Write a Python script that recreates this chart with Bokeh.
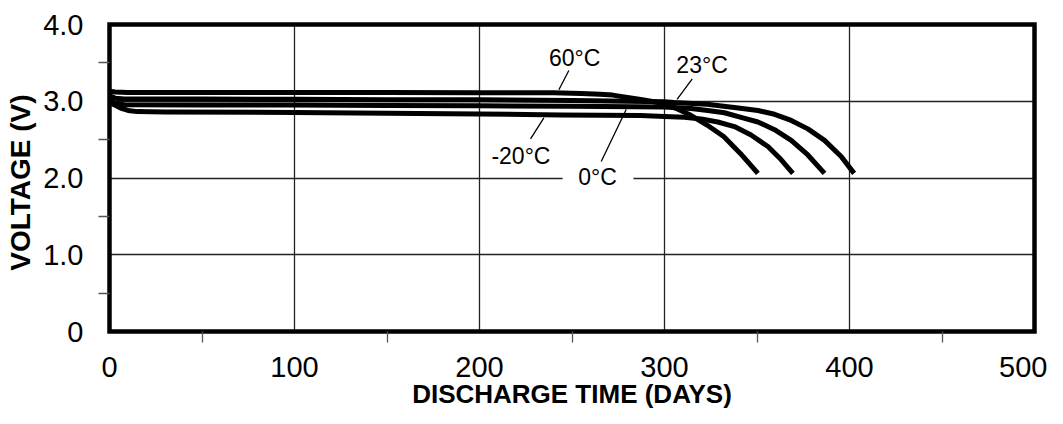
import math
from bokeh.plotting import figure
from bokeh.models import FixedTicker, Label, Range1d, Grid
from bokeh.embed import file_html
from bokeh.resources import INLINE

# ---- data ----
days_60 = [0, 3, 10, 50, 100, 150, 200, 240, 255, 265, 272, 280, 288, 295, 300, 307, 314, 323, 332, 341, 350.5]
volt_60 = [3.13, 3.12, 3.115, 3.115, 3.115, 3.115, 3.11, 3.11, 3.10, 3.09, 3.08, 3.05, 3.02, 2.99, 2.96, 2.90, 2.82, 2.69, 2.54, 2.32, 2.06]

days_23 = [0, 3, 8, 50, 100, 150, 200, 250, 280, 300, 305, 323, 341, 350.5, 359.5, 368.5, 377.5, 386.5, 395.5, 402.5]
volt_23 = [3.07, 3.04, 3.03, 3.03, 3.025, 3.02, 3.02, 3.01, 3.0, 2.995, 2.985, 2.96, 2.91, 2.88, 2.83, 2.75, 2.64, 2.49, 2.28, 2.06]

days_0 = [0, 3, 8, 50, 100, 150, 200, 250, 300, 314.4, 323.4, 332.4, 341.4, 350.5, 359.5, 368.5, 377.5, 386.5]
volt_0 = [3.01, 2.97, 2.955, 2.95, 2.95, 2.945, 2.94, 2.935, 2.925, 2.905, 2.88, 2.85, 2.79, 2.73, 2.63, 2.49, 2.30, 2.06]

days_m20 = [0, 3, 6, 10, 15, 30, 100, 150, 200, 244, 287, 300, 310.8, 319.8, 328.8, 337.8, 346.8, 355.9, 363, 369.4]
volt_m20 = [2.98, 2.95, 2.91, 2.88, 2.865, 2.86, 2.855, 2.845, 2.835, 2.82, 2.815, 2.80, 2.79, 2.77, 2.73, 2.67, 2.56, 2.41, 2.24, 2.06]

x_ticks = [0, 100, 200, 300, 400, 500]
x_tick_labels = ["0", "100", "200", "300", "400", "500"]
x_minor = [50, 150, 250, 350, 450]
y_ticks = [0, 1, 2, 3, 4]
y_tick_labels = ["0", "1.0", "2.0", "3.0", "4.0"]
y_minor = [0.5, 1.5, 2.5, 3.5]

series_labels = ["60\u00b0C", "23\u00b0C", "-20\u00b0C", "0\u00b0C"]
x_title = "DISCHARGE TIME (DAYS)"
y_title = "VOLTAGE (V)"

FONT = "Liberation Sans"

W, H = 1047, 408
# plot box placement in pixels (frame covers the whole canvas)
BOX_L, BOX_R, BOX_T, BOX_B = 109, 1034, 24, 331
x0, x1 = x_ticks[0], x_ticks[-1]
y0, y1 = y_ticks[0], y_ticks[-1]
sx = (BOX_R - BOX_L) / (x1 - x0)
sy = (BOX_B - BOX_T) / (y1 - y0)
xr = Range1d(x0 - BOX_L / sx, x1 + (W - BOX_R) / sx)
yr = Range1d(y0 - (H - BOX_B) / sy, y1 + BOX_T / sy)

p = figure(width=W, height=H, x_range=xr, y_range=yr,
           output_backend="svg", toolbar_location=None, min_border=0)
p.background_fill_color = "white"
p.border_fill_color = "white"
p.outline_line_color = None

for ax, ticks, labels, minor, standoff, bnds in (
        (p.xaxis[0], x_ticks, x_tick_labels, x_minor, 14, (x0, x1)),
        (p.yaxis[0], y_ticks, y_tick_labels, y_minor, 15, (y0, y1))):
    ax.fixed_location = 0
    ax.bounds = bnds
    ax.ticker = FixedTicker(ticks=ticks, minor_ticks=minor)
    ax.major_label_overrides = {float(t): l for t, l in zip(ticks, labels)}
    ax.axis_line_color = None
    ax.major_tick_line_color = None
    ax.major_tick_in = 0
    ax.major_tick_out = 0
    ax.minor_tick_in = 0
    ax.minor_tick_out = 11
    ax.minor_tick_line_color = "#555555"
    ax.minor_tick_line_width = 1.3
    ax.major_label_text_font = FONT
    ax.major_label_text_font_size = "29px"
    ax.major_label_text_color = "black"
    ax.major_label_standoff = standoff

grid_x = x_ticks[1:-1]
grid_y = y_ticks[1:-1]
p.xgrid.ticker = FixedTicker(ticks=grid_x)
p.ygrid.ticker = FixedTicker(ticks=grid_y)
if "cross_bounds" in Grid.properties():
    p.xgrid.cross_bounds = (y0, y1)
    p.ygrid.cross_bounds = (x0, x1)
    for g in (p.xgrid[0], p.ygrid[0]):
        g.grid_line_color = "#222222"
        g.grid_line_width = 1.3
else:
    p.xgrid.visible = False
    p.ygrid.visible = False
    p.segment(x0=grid_x, y0=[y0] * len(grid_x), x1=grid_x, y1=[y1] * len(grid_x),
              line_color="#222222", line_width=1.3)
    p.segment(x0=[x0] * len(grid_y), y0=grid_y, x1=[x1] * len(grid_y), y1=grid_y,
              line_color="#222222", line_width=1.3)

# white box that interrupts the 2.0 V gridline behind the 0°C label
p.quad(left=[244.9], right=[283.2], bottom=[1.96], top=[2.04],
       fill_color="white", line_color=None)

for d, v in ((days_60, volt_60), (days_23, volt_23), (days_0, volt_0), (days_m20, volt_m20)):
    p.line(d, v, line_width=5, line_color="black", line_join="round")

# plot box
p.quad(left=[x0], right=[x1], bottom=[y0], top=[y1], fill_color=None,
       line_color="black", line_width=4.5, line_join="miter")

# leader lines
lead_x0 = [248.3, 315.0, 234.8, 279.3]
lead_y0 = [3.401, 3.293, 2.784, 2.893]
lead_x1 = [242.9, 306.8, 227.6, 265.8]
lead_y1 = [3.149, 3.023, 2.511, 2.215]
p.segment(x0=lead_x0, y0=lead_y0, x1=lead_x1, y1=lead_y1,
          line_color="black", line_width=1.3)

lab_x = [251.4, 320.3, 222.4, 263.8]
lab_y = [3.57, 3.466, 2.293, 2.007]
for t, lx, ly in zip(series_labels, lab_x, lab_y):
    p.add_layout(Label(x=lx, y=ly, text=t, text_font=FONT, text_font_size="23px",
                       text_align="center", text_baseline="middle", text_color="black"))

# axis titles
p.add_layout(Label(x=-48.1, y=1.941, text=y_title, angle=math.pi / 2,
                   text_font=FONT, text_font_size="28px", text_font_style="bold",
                   text_align="center", text_baseline="middle", text_color="black"))
p.add_layout(Label(x=250.0, y=-0.814, text=x_title,
                   text_font=FONT, text_font_size="26px", text_font_style="bold",
                   text_align="center", text_baseline="middle", text_color="black"))

open("out.html", "w").write(file_html(p, INLINE))
